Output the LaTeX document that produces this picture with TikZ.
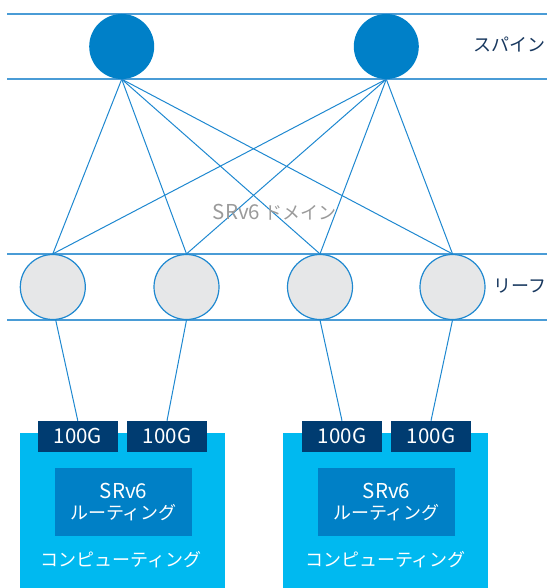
\documentclass[tikz,border=0pt]{standalone}
\usepackage{fontspec}
\setmainfont{Noto Sans CJK JP}
\usetikzlibrary{backgrounds}
\definecolor{spineblue}{HTML}{0080C8}
\definecolor{linkblue}{HTML}{1E88D0}
\definecolor{bandblue}{HTML}{4A9CD6}
\definecolor{leafgray}{HTML}{E6E7E8}
\definecolor{labelnavy}{HTML}{17375E}
\definecolor{portnavy}{HTML}{003C71}
\definecolor{hostcyan}{HTML}{00B9F0}
\definecolor{routeblue}{HTML}{0080C6}
\definecolor{domaingray}{HTML}{9A9A9A}
\newcommand{\jpsize}{\fontsize{18}{21}\selectfont}
\newcommand{\ltsize}{\fontsize{20.5}{21}\selectfont}
\begin{document}
\begin{tikzpicture}[x=1pt,y=-1pt,
  band/.style={draw=bandblue,line width=1.5pt},
  link/.style={draw=linkblue,line width=1pt},
  spinenode/.style={circle,fill=spineblue,minimum size=65pt,inner sep=0pt},
  leafnode/.style={circle,fill=leafgray,draw=linkblue,line width=1.2pt,minimum size=65pt,inner sep=0pt},
  tierlabel/.style={text=labelnavy,inner sep=0pt,font=\jpsize},
  portbox/.style={fill=portnavy,text=white,minimum width=80pt,minimum height=30.7pt,inner sep=0pt,font=\ltsize},
  hostbox/.style={fill=hostcyan,minimum width=205pt,minimum height=155pt,inner sep=0pt},
  routebox/.style={fill=routeblue,text=white,minimum width=137pt,minimum height=68.3pt,inner sep=0pt,align=center,font=\jpsize},
  hostlabel/.style={text=white,inner sep=0pt,font=\jpsize}
]
\useasboundingbox (0,0) rectangle (547,588);

% hosts with their routing block and label
\node[hostbox] (h1) at (122.7,510.5) {};
\node[hostbox] (h2) at (385.2,510.5) {};
\node[routebox] (r1) at (123.5,501.9) {{\ltsize SRv6}\\ルーティング};
\node[routebox] (r2) at (386.5,501.9) {{\ltsize SRv6}\\ルーティング};
\node[hostlabel] (c1) at (121,560) {コンピューティング};
\node[hostlabel] (c2) at (385.5,560) {コンピューティング};

% spine and leaf switches
\node[spinenode] (s1) at (121.7,46.5) {};
\node[spinenode] (s2) at (386.3,46.5) {};
\node[leafnode] (l1) at (52.8,287) {};
\node[leafnode] (l2) at (186.5,287) {};
\node[leafnode] (l3) at (320,287) {};
\node[leafnode] (l4) at (452.5,287) {};

% 100G ports
\node[portbox] (p1) at (77.8,436.3) {100G};
\node[portbox] (p2) at (167,436.3) {100G};
\node[portbox] (p3) at (342,436.3) {100G};
\node[portbox] (p4) at (431,436.3) {100G};

\begin{pgfonlayer}{background}
  % tier bands
  \draw[band] (7,14) -- (547,14);
  \draw[band] (7,79) -- (547,79);
  \draw[band] (7,254) -- (547,254);
  \draw[band] (7,320) -- (547,320);
  % full mesh between spine and leaf
  \foreach \s in {s1,s2}
    \foreach \l in {l1,l2,l3,l4}
      \draw[link] (\s.south) -- (\l.north);
  % leaf uplinks to host ports
  \draw[link] (l1.-85) -- (p1.north);
  \draw[link] (l2.south) -- (p2.north);
  \draw[link] (l3.south) -- (p3.north);
  \draw[link] (l4.south) -- (p4.north);
\end{pgfonlayer}

% labels
\node[tierlabel] (tspine) at (509,44) {スパイン};
\node[tierlabel] (tleaf) at (520,286) {リーフ};
\node[text=domaingray,inner sep=0pt,font=\jpsize] (dom) at (274.5,212) {{\ltsize SRv6} ドメイン};
\end{tikzpicture}
\end{document}
